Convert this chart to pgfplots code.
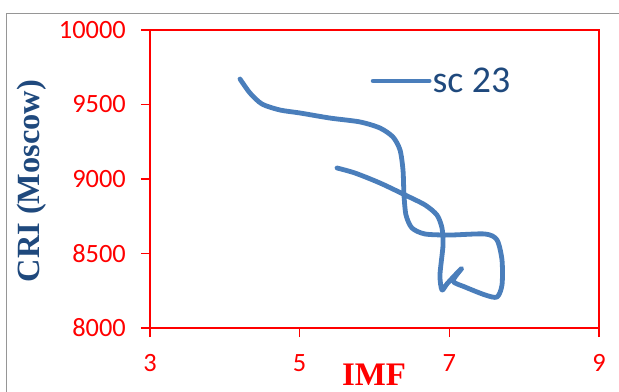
\documentclass[border=0pt]{standalone}
\usepackage{pgfplots}
\pgfplotsset{compat=1.18}
\usepackage{fontspec}
\setmainfont{Carlito}
\newfontfamily\serifbold{Liberation Serif}[BoldFont={Liberation Serif Bold}]

\definecolor{curveblue}{RGB}{74,126,187}
\definecolor{darkblue}{RGB}{31,73,125}
\definecolor{framegray}{RGB}{150,150,150}

\pgfplotstableread{
imf    cri
4.203  9671
4.336  9577
4.497  9503
4.737  9463
5.005  9443
5.405  9409
5.806  9383
6.074  9342
6.247  9282
6.341  9195
6.381  9060
6.394  8893
6.421  8758
6.501  8671
6.675  8631
7.009  8624
7.477  8631
7.637  8591
7.704  8456
7.704  8289
7.637  8208
7.477  8222
7.210  8275
7.050  8315
7.165  8400
6.975  8300
6.902  8255
6.875  8356
6.916  8557
6.902  8671
6.835  8758
6.675  8826
6.408  8893
6.074  8973
5.740  9040
5.499  9074
}\scdata

\begin{document}
\begin{tikzpicture}
\useasboundingbox (-150bp,-64bp) rectangle (469bp,328bp);
\draw[framegray, line width=1bp] (-143bp,-80bp) -- (-143bp,314bp) -- (490bp,314bp);
\begin{axis}[
  at={(0,0)}, anchor=south west,
  scale only axis,
  width=449bp, height=298bp,
  xmin=3, xmax=9, ymin=8000, ymax=10000,
  xtick={3,5,7,9},
  ytick={8000,8500,9000,9500,10000},
  scaled ticks=false,
  minor tick num=0,
  axis line style={red, line width=1.3bp},
  every tick/.style={red, line width=1.3bp},
  tick align=outside,
  major tick length=9bp,
  xtick pos=bottom, ytick pos=left,
  /pgf/number format/assume math mode=true,
  /pgf/number format/1000 sep={},
  tick label style={font=\fontsize{26.5}{29}\selectfont, text=red},
  yticklabel style={anchor=east, inner sep=0pt, xshift=-15bp},
  xticklabel style={anchor=north, inner sep=0pt, yshift=-17bp},
  xlabel={\serifbold\bfseries IMF},
  xlabel style={at={(rel axis cs:0.499,0)}, anchor=base, yshift=-57bp,
    font=\fontsize{33}{36}\selectfont, text=red, inner sep=0pt},
  ylabel={\serifbold\bfseries CRI (Moscow)},
  ylabel style={at={(rel axis cs:0,0.493)}, anchor=center, rotate=0, yshift=118bp,
    font=\fontsize{32.5}{36}\selectfont, text=darkblue, inner sep=0pt},
  legend style={draw=none, fill=none, at={(axis cs:5.95,9658)}, anchor=west,
    inner sep=0pt, outer sep=0pt,
    font=\fontsize{38}{40}\selectfont, text=darkblue,
    nodes={inner sep=1bp}},
  legend image code/.code={\draw[#1, line cap=round] (0bp,0bp) -- (56bp,0bp);},
]
\addplot[curveblue, line width=4.8bp, smooth, tension=0.45,
  line cap=round, line join=round] table[x=imf, y=cri] {\scdata};
\addlegendentry{sc 23}
\end{axis}
\end{tikzpicture}
\end{document}
